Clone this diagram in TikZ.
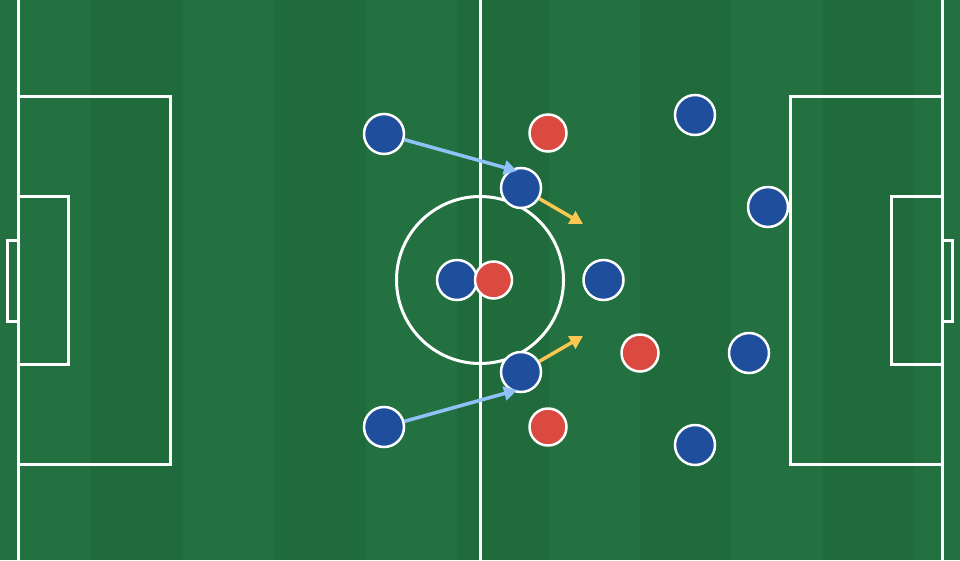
\documentclass[tikz,border=0pt]{standalone}
\usetikzlibrary{arrows.meta}
\definecolor{grassL}{RGB}{35,113,65}
\definecolor{grassD}{RGB}{31,107,59}
\definecolor{teamB}{RGB}{31,78,156}
\definecolor{teamR}{RGB}{219,74,64}
\definecolor{runB}{RGB}{144,194,249}
\definecolor{runY}{RGB}{250,200,80}
\tikzset{
  pitchline/.style={draw=white,line width=3pt},
  bplayer/.style={circle,fill=teamB,draw=white,line width=2.5pt,minimum size=40pt,inner sep=0pt},
  rplayer/.style={circle,fill=teamR,draw=white,line width=2.5pt,minimum size=37pt,inner sep=0pt},
  runarrow/.style={line width=3.5pt,-{Triangle[length=13pt,width=14pt]}},
}
\begin{document}
\begin{tikzpicture}[x=1pt,y=-1pt]
\useasboundingbox (0,0) rectangle (960,560);
% stripes
\fill[grassL] (0,0) rectangle (960,560);
\foreach \i in {1,3,5,7,9}{
  \fill[grassD] ({\i*960/10.5},0) rectangle ({(\i+1)*960/10.5},560);
}
% pitch lines
\draw[pitchline] (18,0) -- (18,560);
\draw[pitchline] (942,0) -- (942,560);
\draw[pitchline] (480,0) -- (480,560);
\draw[pitchline] (480,280) circle[radius=83.5];
\draw[pitchline] (18,96.5) -- (170,96.5) -- (170,464.5) -- (18,464.5);
\draw[pitchline] (18,196.5) -- (68.5,196.5) -- (68.5,364) -- (18,364);
\draw[pitchline] (18,240) -- (7.5,240) -- (7.5,321.5) -- (18,321.5);
\draw[pitchline] (942,96.5) -- (790,96.5) -- (790,464.5) -- (942,464.5);
\draw[pitchline] (942,196.5) -- (891.5,196.5) -- (891.5,364) -- (942,364);
\draw[pitchline] (942,240) -- (952.5,240) -- (952.5,321.5) -- (942,321.5);
% players
\node[bplayer] (b1) at (384,134) {};
\node[bplayer] (b2) at (521,188) {};
\node[bplayer] (b3) at (457,280) {};
\node[bplayer] (b4) at (603.5,280) {};
\node[bplayer] (b5) at (521,372) {};
\node[bplayer] (b6) at (384,427) {};
\node[bplayer] (b7) at (695,115) {};
\node[bplayer] (b8) at (768,207) {};
\node[bplayer] (b9) at (749,353) {};
\node[bplayer] (b10) at (695,445) {};
\node[rplayer] (r1) at (548,133) {};
\node[rplayer] (r2) at (493.5,280) {};
\node[rplayer] (r3) at (640,353) {};
\node[rplayer] (r4) at (548,427) {};
% run targets
\coordinate (t1) at (517,171);
\coordinate (t2) at (583,224);
\coordinate (t3) at (583,336);
\coordinate (t4) at (517,390);
\draw[runarrow,runB] (b1) -- (t1);
\draw[runarrow,runY] (b2) -- (t2);
\draw[runarrow,runY] (b5) -- (t3);
\draw[runarrow,runB] (b6) -- (t4);
\end{tikzpicture}
\end{document}
